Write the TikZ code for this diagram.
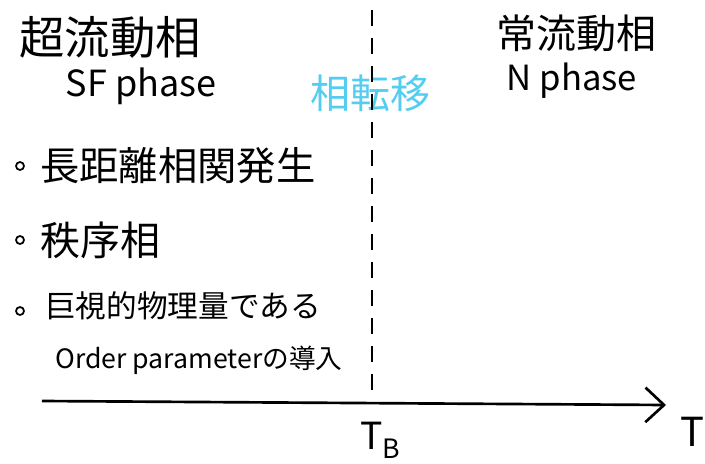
\documentclass[tikz,border=0pt]{standalone}
\usepackage{fontspec}
\setmainfont{Noto Sans CJK JP}
\usetikzlibrary{arrows.meta}
\definecolor{cyanink}{RGB}{85,205,240}
\tikzset{
  lbl/.style={inner sep=0pt, anchor=west, text=black},
  ctr/.style={inner sep=0pt, text=black},
  bullet/.style={circle, draw=black, line width=1.3pt, minimum size=6pt, inner sep=0pt},
}
\begin{document}
\begin{tikzpicture}[x=0.75pt,y=-0.75pt]
\useasboundingbox (0,0) rectangle (705,463);
% headings
\node[ctr, font=\fontsize{34}{36}\selectfont] (sf) at (110,37) {超流動相};
\node[ctr, font=\fontsize{27}{29}\selectfont] (sfe) at (141,86) {SF phase};
\node[ctr, font=\fontsize{30}{32}\selectfont] (n) at (576,33) {常流動相};
\node[ctr, font=\fontsize{26}{28}\selectfont] (ne) at (572,81) {N phase};
\node[ctr, text=cyanink, font=\fontsize{30}{32}\selectfont] (pt) at (370,93) {相転移};
% dashed boundary
\coordinate (dtop) at (372,10);
\coordinate (dbot) at (372,398);
\draw[line width=1.1pt, dash pattern=on 12pt off 9pt] (dtop) -- (dbot);
% bullets
\node[bullet] (b1) at (20,166) {};
\node[bullet] (b2) at (20,240) {};
\node[bullet] (b3) at (20,311) {};
\node[lbl, font=\fontsize{29.5}{31}\selectfont] (t1) at (40,166) {長距離相関発生};
\node[lbl, font=\fontsize{30}{32}\selectfont] (t2) at (40,240) {秩序相};
\node[lbl, font=\fontsize{23}{25}\selectfont] (t3) at (45,306) {巨視的物理量である};
\node[lbl, font=\fontsize{20}{22}\selectfont] (t4) at (55,360) {Order parameterの導入};
% axis
\coordinate (ax0) at (42,401);
\coordinate (ax1) at (666,405);
\draw[line width=2pt, -{Straight Barb[length=14pt, width=26pt, line width=2pt]}] (ax0) -- (ax1);
\node[ctr, font=\fontsize{28}{30}\selectfont] (tb) at (380,440) {T\raisebox{-0.25em}{\fontsize{20}{22}\selectfont B}};
\node[ctr, font=\fontsize{30}{32}\selectfont] (tt) at (692,432) {T};
\end{tikzpicture}
\end{document}
